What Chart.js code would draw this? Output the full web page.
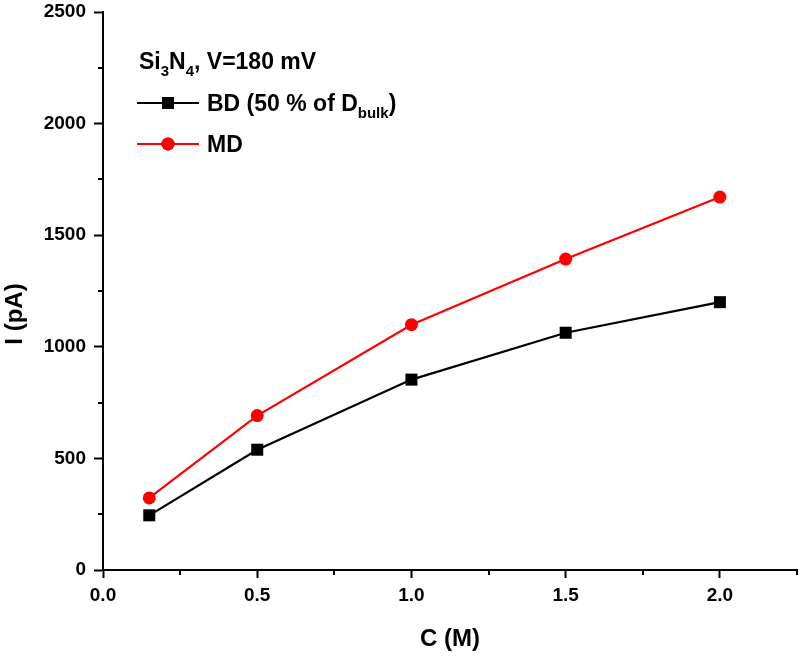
<!DOCTYPE html>
<html>
<head>
<meta charset="utf-8">
<script src="https://cdn.jsdelivr.net/npm/chart.js@4"></script>
<style>
  html, body { margin: 0; padding: 0; background: #fff; }
  #wrap { width: 800px; height: 656px; }
</style>
</head>
<body>
<div id="wrap"><canvas id="mainGraph"></canvas></div>
<script>
// Data
const concentrations = [0.15, 0.5, 1.0, 1.5, 2.0];
const bdCurrent = [245, 539, 853, 1063, 1200];
const mdCurrent = [323, 692, 1099, 1393, 1671];

const FONT = 'Liberation Sans, Arial, sans-serif';

function toPoints(xs, ys) {
    return xs.map((x, i) => ({ x: x, y: ys[i] }));
}

// text with subscripts, runs = [[text, isSub], ...]
function drawRuns(ctx, runs, x, y, size) {
    runs.forEach(r => {
        const s = r[1] ? Math.round(size * 0.66) : size;
        ctx.font = `bold ${s}px ${FONT}`;
        ctx.fillText(r[0], x, r[1] ? y + size * 0.3 : y);
        x += ctx.measureText(r[0]).width;
    });
}

const minorTicks = {
    id: 'minorTicks',
    afterDraw(chart) {
        const ctx = chart.ctx;
        const xs = chart.scales.x, ys = chart.scales.y;
        ctx.save();
        ctx.strokeStyle = '#000';
        ctx.lineWidth = 2;
        ctx.beginPath();
        for (let v = 0.25; v <= 2.25; v += 0.5) {
            const px = Math.round(xs.getPixelForValue(v));
            ctx.moveTo(px, ys.bottom);
            ctx.lineTo(px, ys.bottom + 5);
        }
        for (let v = 250; v < 2500; v += 500) {
            const py = Math.round(ys.getPixelForValue(v));
            ctx.moveTo(xs.left, py);
            ctx.lineTo(xs.left - 5, py);
        }
        ctx.stroke();

        // axis titles
        ctx.fillStyle = '#000';
        ctx.font = `bold 24px ${FONT}`;
        ctx.textAlign = 'center';
        ctx.textBaseline = 'middle';
        ctx.fillText('C (M)', 450, 639);
        ctx.translate(15, 314);
        ctx.rotate(-Math.PI / 2);
        ctx.fillText('I (pA)', 0, 0);
        ctx.restore();
    }
};

const customLegend = {
    id: 'customLegend',
    afterDraw(chart) {
        const ctx = chart.ctx;
        ctx.save();
        ctx.fillStyle = '#000';
        ctx.textBaseline = 'alphabetic';
        drawRuns(ctx, [['Si', 0], ['3', 1], ['N', 0], ['4', 1], [', V=180 mV', 0]], 139, 69, 23);

        const items = [
            { color: '#000', style: 'rect', r: 8.5, y: 103, runs: [['BD (50 % of D', 0], ['bulk', 1], [')', 0]] },
            { color: '#ff0000', style: 'circle', r: 6.5, y: 144, runs: [['MD', 0]] }
        ];
        items.forEach(it => {
            ctx.strokeStyle = it.color;
            ctx.lineWidth = 2;
            ctx.beginPath();
            ctx.moveTo(137, it.y);
            ctx.lineTo(199, it.y);
            ctx.stroke();
            Chart.helpers.drawPoint(ctx, { pointStyle: it.style, radius: it.r, borderWidth: 0 }, 168, it.y);
            ctx.fillStyle = it.color;
            ctx.fill();
            ctx.fillStyle = '#000';
            drawRuns(ctx, it.runs, 207, it.y + 8, 23);
        });
        ctx.restore();
    }
};

const mainGraph = document.getElementById('mainGraph').getContext('2d');

new Chart(mainGraph, {
    type: 'line',
    data: {
        datasets: [
            {
                label: 'BD (50 % of Dbulk)',
                data: toPoints(concentrations, bdCurrent),
                borderColor: '#000',
                backgroundColor: '#000',
                borderWidth: 2.2,
                pointStyle: 'rect',
                pointRadius: 8.5,
                pointBorderWidth: 0
            },
            {
                label: 'MD',
                data: toPoints(concentrations, mdCurrent),
                borderColor: '#ff0000',
                backgroundColor: '#ff0000',
                borderWidth: 2.2,
                pointStyle: 'circle',
                pointRadius: 6.5,
                pointBorderWidth: 0
            }
        ]
    },
    options: {
        responsive: true,
        maintainAspectRatio: false,
        animation: false,
        layout: { autoPadding: false, padding: { top: 12, right: 3, left: 0, bottom: 0 } },
        plugins: {
            legend: { display: false },
            tooltip: { enabled: false }
        },
        scales: {
            x: {
                type: 'linear',
                min: 0,
                max: 2.25,
                afterFit(scale) {
                    scale.height = 86;
                    scale.paddingLeft = 0;
                    scale.paddingRight = 0;
                },
                border: { color: '#000', width: 2 },
                grid: { drawOnChartArea: false, color: '#000', tickLength: 8, tickWidth: 2 },
                ticks: {
                    stepSize: 0.5,
                    includeBounds: false,
                    color: '#000',
                    padding: 6,
                    font: { family: FONT, size: 19, weight: 'bold' },
                    callback: v => v.toFixed(1)
                }
            },
            y: {
                min: 0,
                max: 2500,
                afterFit(scale) {
                    scale.width = 103;
                    scale.paddingTop = 0;
                    scale.paddingBottom = 0;
                },
                border: { color: '#000', width: 2 },
                grid: { drawOnChartArea: false, color: '#000', tickLength: 9, tickWidth: 2 },
                ticks: {
                    stepSize: 500,
                    color: '#000',
                    padding: 8,
                    font: { family: FONT, size: 19, weight: 'bold' },
                    callback: v => String(v)
                }
            }
        }
    },
    plugins: [minorTicks, customLegend]
});
</script>
</body>
</html>
